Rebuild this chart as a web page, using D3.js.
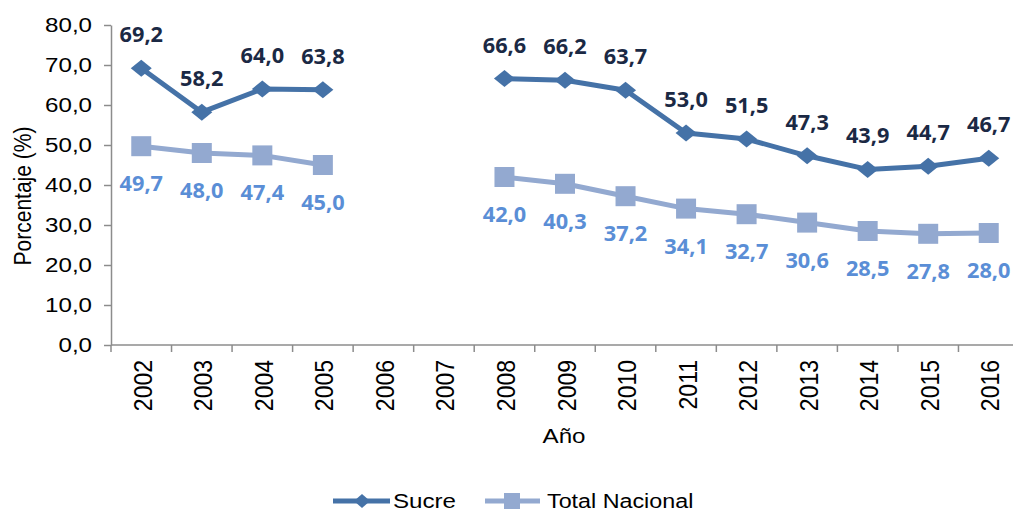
<!DOCTYPE html>
<html><head><meta charset="utf-8">
<script src="https://cdn.jsdelivr.net/npm/d3@7"></script>
<style>body{margin:0;background:#fff}svg{display:block}</style>
</head><body>
<script>
const years = ["2002","2003","2004","2005","2006","2007","2008","2009","2010","2011","2012","2013","2014","2015","2016"];
const sucre = [69.2,58.2,64.0,63.8,null,null,66.6,66.2,63.7,53.0,51.5,47.3,43.9,44.7,46.7];
const nacional = [49.7,48.0,47.4,45.0,null,null,42.0,40.3,37.2,34.1,32.7,30.6,28.5,27.8,28.0];
const yTicks = [0,10,20,30,40,50,60,70,80];

const W=1013,H=512;
const SX=1.15;
const svg=d3.select("body").append("svg").attr("width",W).attr("height",H);
const x=d3.scaleBand().domain(years).range([111,1019]);
const y=d3.scaleLinear().domain([0,80]).range([345,25]);
const fmt=v=>v.toFixed(1).replace(".",",");
const axisColor="#8c8c8c";
const FF="Liberation Sans, Arial, sans-serif";

// y axis
const ya=svg.append("g").attr("transform","translate(111,0)")
  .call(d3.axisLeft(y).tickValues(yTicks).tickFormat(fmt).tickSize(7).tickSizeOuter(0));
ya.select(".domain").attr("stroke",axisColor).attr("stroke-width",1.5);
ya.selectAll(".tick line").attr("stroke",axisColor).attr("stroke-width",1.5);
ya.selectAll("text").attr("font-family",FF).attr("font-size",21).attr("fill","#000")
  .attr("dx",-6.5).attr("transform",`scale(${SX},1)`);

// x axis
const xa=svg.append("g").attr("transform","translate(0,345)");
xa.append("line").attr("x1",111).attr("x2",1019).attr("stroke",axisColor).attr("stroke-width",1.5);
const bounds=years.map(d=>x(d)).concat([x.range()[1]]);
xa.selectAll("line.t").data(bounds).enter().append("line").attr("class","t")
  .attr("x1",d=>d).attr("x2",d=>d).attr("y1",0).attr("y2",7).attr("stroke",axisColor).attr("stroke-width",1.5);
xa.selectAll("text").data(years).enter().append("text")
  .attr("transform",d=>`translate(${x(d)+x.bandwidth()/2+10.5},15) scale(${SX},1) rotate(-90)`)
  .attr("text-anchor","end").attr("font-family",FF).attr("font-size",23).text(d=>d);

svg.append("text").attr("transform",`translate(564,443) scale(${SX},1)`).attr("text-anchor","middle")
  .attr("font-family",FF).attr("font-size",21).text("Año");
svg.append("text").attr("transform",`translate(31,196) scale(${SX},1) rotate(-90)`).attr("text-anchor","middle")
  .attr("font-family",FF).attr("font-size",21).text("Porcentaje (%)");

const cx=d=>x(d)+x.bandwidth()/2;
const c1="#4572a7", c2="#93a9d0";
const diamond="M0,-8.5L10.5,0L0,8.5L-10.5,0Z";
function series(vals,color,marker,labColor,dy){
  const pts=years.map((yr,i)=>({yr,v:vals[i]}));
  const line=d3.line().defined(d=>d.v!=null).x(d=>cx(d.yr)).y(d=>y(d.v));
  svg.append("path").datum(pts).attr("d",line).attr("fill","none").attr("stroke",color).attr("stroke-width",5).attr("stroke-linejoin","round");
  const p=pts.filter(d=>d.v!=null);
  if(marker==="diamond"){
    svg.selectAll(null).data(p).enter().append("path")
      .attr("d",diamond)
      .attr("transform",d=>`translate(${cx(d.yr)},${y(d.v)})`).attr("fill",color);
  } else {
    svg.selectAll(null).data(p).enter().append("rect")
      .attr("x",d=>cx(d.yr)-10).attr("y",d=>y(d.v)-10).attr("width",20).attr("height",20).attr("fill",color);
  }
  svg.selectAll(null).data(p).enter().append("text")
    .attr("transform",d=>`translate(${cx(d.yr)},${y(d.v)+dy}) scale(1.06,1)`).attr("text-anchor","middle")
    .attr("font-family","Open Sans, Liberation Sans").attr("font-weight","bold").attr("font-size",20.5)
    .attr("fill",labColor).text(d=>fmt(d.v));
}
series(nacional,c2,"square","#5a8ed6",45);
series(sucre,c1,"diamond","#1b2944",-26);

// legend
const lg=svg.append("g");
lg.append("line").attr("x1",333).attr("x2",390).attr("y1",501).attr("y2",501).attr("stroke",c1).attr("stroke-width",5);
lg.append("path").attr("d","M0,-7L8,0L0,7L-8,0Z").attr("transform","translate(362,501)").attr("fill",c1);
lg.append("text").attr("transform",`translate(393,508) scale(${SX},1)`).attr("font-family",FF).attr("font-size",21).text("Sucre");
lg.append("line").attr("x1",485).attr("x2",540).attr("y1",501).attr("y2",501).attr("stroke",c2).attr("stroke-width",5);
lg.append("rect").attr("x",504).attr("y",493).attr("width",16).attr("height",16).attr("fill",c2);
lg.append("text").attr("transform",`translate(547,508) scale(1.11,1)`).attr("font-family",FF).attr("font-size",21).text("Total Nacional");
</script>
</body></html>
